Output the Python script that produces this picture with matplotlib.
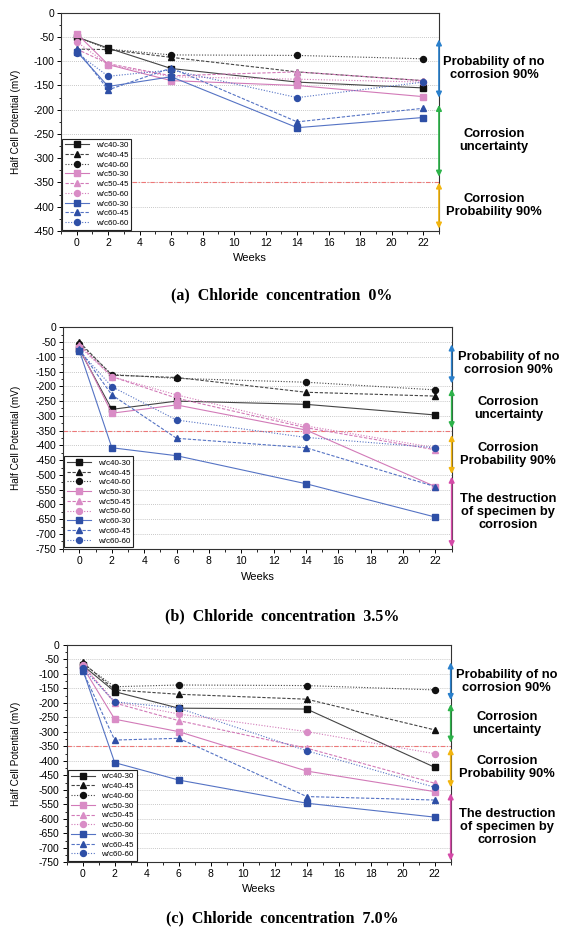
#!/usr/bin/env python3
import matplotlib
matplotlib.use("Agg")
import matplotlib.pyplot as plt
import matplotlib.ticker as tck

plt.rcParams["font.family"] = ["Liberation Sans", "DejaVu Sans"]
plt.rcParams["axes.unicode_minus"] = False

WEEKS = [0, 2, 6, 14, 22]
SERIES_NAMES = ["w/c40-30", "w/c40-45", "w/c40-60",
                "w/c50-30", "w/c50-45", "w/c50-60",
                "w/c60-30", "w/c60-45", "w/c60-60"]

# half cell potential (mV), one row per series, columns follow WEEKS
CL_0 = [
    [-50, -73, -115, -143, -155],
    [-75, -76, -92, -122, -140],
    [-50, -75, -87, -88, -95],
    [-43, -107, -140, -150, -173],
    [-75, -105, -130, -122, -140],
    [-60, -107, -132, -137, -143],
    [-80, -152, -132, -237, -216],
    [-75, -159, -114, -225, -197],
    [-83, -131, -118, -175, -143],
]
CL_35 = [
    [-75, -278, -250, -261, -297],
    [-50, -162, -170, -220, -233],
    [-55, -160, -173, -186, -212],
    [-70, -291, -263, -348, -540],
    [-60, -167, -240, -340, -415],
    [-65, -167, -229, -334, -408],
    [-80, -408, -435, -530, -643],
    [-75, -229, -376, -408, -540],
    [-80, -201, -314, -373, -408],
]
CL_70 = [
    [-70, -161, -218, -221, -422],
    [-60, -155, -170, -187, -293],
    [-65, -144, -138, -140, -155],
    [-75, -256, -299, -435, -506],
    [-70, -200, -261, -356, -477],
    [-70, -196, -238, -299, -375],
    [-85, -406, -466, -546, -594],
    [-90, -328, -322, -523, -535],
    [-80, -196, -218, -365, -491],
]

ZONE_LABELS = ["Probability of no\ncorrosion 90%", "Corrosion\nuncertainty",
               "Corrosion\nProbability 90%", "The destruction\nof specimen by\ncorrosion"]
ZONES_0 = [(-55, -175), (-190, -338), (-350, -445)]
ZONES_35 = [(-58, -190), (-209, -342), (-365, -497), (-506, -745)]
ZONES_70 = [(-60, -190), (-204, -337), (-356, -491), (-512, -744)]

CAPTIONS = ["(a)  Chloride  concentration  0%",
            "(b)  Chloride  concentration  3.5%",
            "(c)  Chloride  concentration  7.0%"]

GROUP_MARKER_COLORS = ["#111111", "#d98cc6", "#2e4fa6"]
GROUP_LINE_COLORS = ["#444444", "#d27ab8", "#5573c4"]
MARKERS = ["s", "^", "o"]
LINESTYLES = ["-", (0, (3, 1.5)), (0, (1, 1.5))]
ZONE_COLORS = ["#2a80cc", "#2db34a", "#f2b50f", "#d54aa8"]

FIG_W, FIG_H = 562, 936


def draw_panel(fig, rect, values, ymin, zones, caption, cap_y, weeks_y):
    ax = fig.add_axes(rect)
    for i, name in enumerate(SERIES_NAMES):
        g, k = divmod(i, 3)
        ax.plot(WEEKS, values[i], color=GROUP_LINE_COLORS[g], linestyle=LINESTYLES[k],
                linewidth=0.8, marker=MARKERS[k], markersize=4.8 if k == 1 else 4.3,
                markerfacecolor=GROUP_MARKER_COLORS[g], markeredgecolor=GROUP_MARKER_COLORS[g],
                label=name, zorder=3)
    ax.axhline(-350, color="#ee7777", linestyle=(0, (4, 1.5, 1, 1.5)), linewidth=0.8, zorder=2)
    ax.set_xlim(-1, 23)
    ax.set_ylim(ymin, 0)
    ax.xaxis.set_major_locator(tck.MultipleLocator(2))
    ax.xaxis.set_minor_locator(tck.MultipleLocator(1))
    ax.yaxis.set_major_locator(tck.MultipleLocator(50))
    ax.yaxis.set_minor_locator(tck.MultipleLocator(25))
    ax.tick_params(which="major", direction="out", length=3, width=0.7, labelsize=7.5, pad=2)
    ax.tick_params(which="minor", direction="out", length=1.8, width=0.6)
    for ticky in range(-50, ymin, -50):
        ax.axhline(ticky, color="#b5b5b5", linestyle=(0, (1, 1.5)), linewidth=0.6, zorder=1)
    for sp in ax.spines.values():
        sp.set_linewidth(0.8)
        sp.set_color("#333333")

    leg = ax.legend(loc="lower left", fontsize=5.8, numpoints=1, handlelength=3.0,
                    handletextpad=0.8, labelspacing=0.26, borderpad=0.35,
                    borderaxespad=0.15, fancybox=False, framealpha=1, edgecolor="#222222")
    leg.get_frame().set_linewidth(0.8)

    for j, (top, bot) in enumerate(zones):
        ax.annotate("", xy=(23, bot), xytext=(23, top), xycoords="data",
                    arrowprops=dict(arrowstyle="<|-|>", color=ZONE_COLORS[j], lw=1.2,
                                    mutation_scale=8, shrinkA=0, shrinkB=0),
                    annotation_clip=False)
        ax.text(26.5, (top + bot) / 2, ZONE_LABELS[j], ha="center", va="center",
                fontsize=9.3, fontweight="bold", linespacing=1.12, clip_on=False)

    x_mid = rect[0] + rect[2] / 2
    fig.text(x_mid, 1 - weeks_y / FIG_H, "Weeks", ha="center", va="center", fontsize=8)
    fig.text(16 / FIG_W, rect[1] + rect[3] / 2, "Half Cell Potential (mV)", rotation=90,
             ha="center", va="center", fontsize=7.2)
    fig.text(282 / FIG_W, 1 - cap_y / FIG_H, caption, ha="center", va="center",
             fontsize=11.5, fontweight="bold", family=["Liberation Serif", "DejaVu Serif"])
    return ax


fig = plt.figure(figsize=(FIG_W / 100, FIG_H / 100), dpi=100)
fig.patch.set_facecolor("white")

draw_panel(fig, [0.1085, 0.7532, 0.6726, 0.2332], CL_0, -450, ZONES_0, CAPTIONS[0], 295, 258)
draw_panel(fig, [0.1126, 0.4138, 0.6911, 0.2365], CL_35, -750, ZONES_35, CAPTIONS[1], 616, 577)
draw_panel(fig, [0.1187, 0.0787, 0.6833, 0.2322], CL_70, -750, ZONES_70, CAPTIONS[2], 918, 889)

fig.savefig("out.png", dpi=100)
print("File saved: out.png")
